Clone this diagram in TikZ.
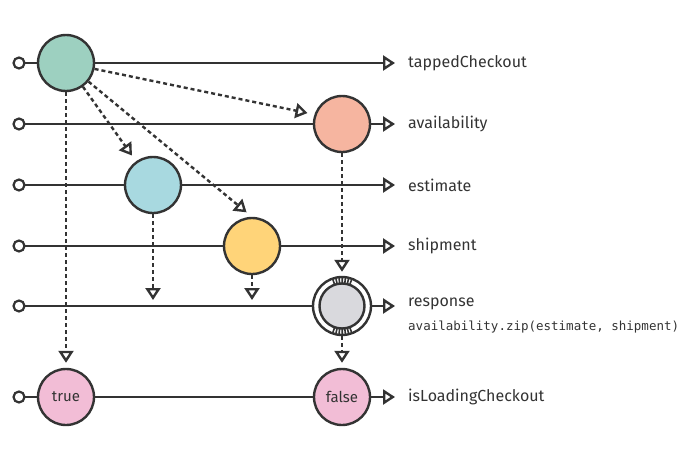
\documentclass[tikz,border=0pt]{standalone}
\usepackage{fontspec}
\setmainfont{Fira Sans}
\newfontfamily\codefont{DejaVu Sans Mono}
\usetikzlibrary{arrows.meta}
\definecolor{ink}{HTML}{333333}
\definecolor{mint}{HTML}{9DD0C0}
\definecolor{salmon}{HTML}{F6B5A0}
\definecolor{sky}{HTML}{A8D9E0}
\definecolor{honey}{HTML}{FFD479}
\definecolor{ash}{HTML}{D9D9DD}
\definecolor{rose}{HTML}{F2BDD6}
\tikzset{ev/.style={circle,draw=ink,line width=2.4pt,minimum size=56pt,inner sep=0pt,text=ink,font=\fontsize{15}{15}\selectfont}}
\tikzset{src/.style={circle,draw=ink,line width=2.2pt,fill=white,minimum size=11pt,inner sep=0pt}}
\tikzset{lbl/.style={anchor=west,text=ink,inner sep=0pt,font=\fontsize{16}{16}\selectfont}}
\tikzset{flow/.style={draw=ink,line width=2.4pt,-{Triangle[open,length=12pt,width=15pt]}}}
\tikzset{dep/.style={flow,dash pattern=on 4pt off 3pt}}

\begin{document}
\begin{tikzpicture}[x=1pt,y=-1pt]
  \useasboundingbox (0,0) rectangle (697,450);
  % timelines
  \foreach \n/\y in {tap/63,av/124,est/185,ship/246,resp/306,load/397}{
    \coordinate (\n end) at (395,\y);
    \draw[flow] (19,\y) -- (\n end);
    \node[src] (\n start) at (19,\y) {};
  }
  % events
  \node[ev,fill=mint] (tapped) at (66,63) {};
  \node[ev,fill=salmon] (avail) at (342,124) {};
  \node[ev,fill=sky] (estim) at (153,185) {};
  \node[ev,fill=honey] (shipm) at (252,246) {};
  \node[ev,fill=white,minimum size=58pt] (zip) at (342,306) {};
  \node[ev,fill=ash,minimum size=45pt] (zipin) at (342,306) {};
  \foreach \a in {70,76.5,...,110}{
    \draw[ink,line width=1.6pt] ([shift={(\a:23)}]zip.center) -- ([shift={(\a:28.5)}]zip.center);
    \draw[ink,line width=1.6pt] ([shift={(-\a:23)}]zip.center) -- ([shift={(-\a:28.5)}]zip.center);
  }
  \node[ev,fill=rose] (true) at (66,397) {true};
  \node[ev,fill=rose] (false) at (342,397) {false};
  % dependencies
  \coordinate (estdrop) at (153,300);
  \coordinate (shipdrop) at (252,300);
  \draw[dep,shorten >=7pt] (tapped) -- (avail.161);
  \draw[dep,shorten >=7pt] (tapped) -- (estim);
  \draw[dep,shorten >=7pt] (tapped) -- (shipm.north);
  \draw[dep,shorten >=5pt] (tapped) -- (true);
  \draw[dep] (estim) -- (estdrop);
  \draw[dep] (shipm) -- (shipdrop);
  \draw[dep,shorten >=4pt] (avail) -- (zip);
  \draw[dep,shorten >=5pt] (zip) -- (false);
  % labels
  \node[lbl] (l1) at (408,63) {tappedCheckout};
  \node[lbl] (l2) at (408,124) {availability};
  \node[lbl] (l3) at (408,185) {estimate};
  \node[lbl] (l4) at (408,246) {shipment};
  \node[lbl] (l5) at (408,304) {response};
  \node[lbl,font=\codefont\fontsize{12.5}{12.5}\selectfont] (l6) at (408,327) {availability.zip(estimate, shipment)};
  \node[lbl] (l7) at (408,397) {isLoadingCheckout};
\end{tikzpicture}
\end{document}
